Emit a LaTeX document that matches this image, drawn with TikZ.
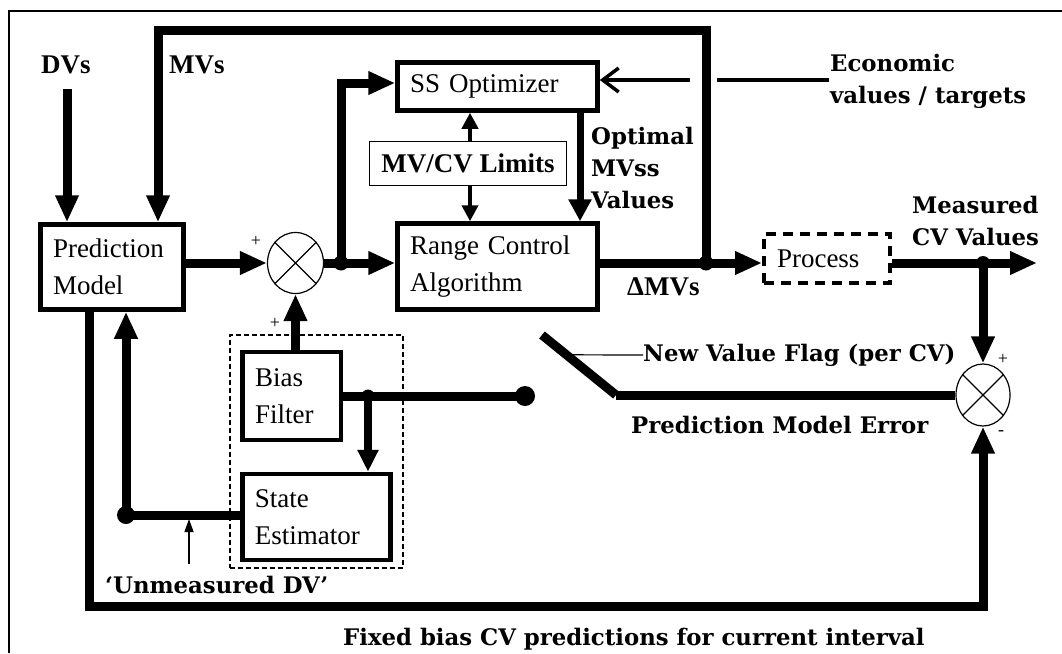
\documentclass[tikz,border=0pt]{standalone}
\usepackage{fontspec}
\newfontfamily\tmfont{Liberation Serif}
\newfontfamily\lbfont{DejaVu Serif}
\usetikzlibrary{arrows.meta,calc,shapes.geometric}

\tikzset{
  box/.style={draw, line width=4.5pt, rectangle, inner xsep=12.5pt, inner ysep=0pt,
    align=left, font=\tmfont\fontsize{27}{37}\selectfont},
  sumj/.style={ellipse, draw, line width=1.2pt, inner sep=0pt,
    minimum width=56pt, minimum height=61pt},
  dot/.style={circle, fill, inner sep=0pt, minimum size=15pt},
  main/.style={line width=9pt},
  marrow/.style={main, -{Triangle[length=27pt,width=22pt]}},
  midarrow/.style={line width=4pt, -{Triangle[length=16pt,width=16pt]}},
  thinarrow/.style={line width=1.3pt, -{Triangle[length=13pt,width=9pt]}},
  econarrow/.style={line width=3.5pt, -{Straight Barb[length=16pt,width=24pt]}},
  tlbl/.style={inner sep=0pt, font=\tmfont\bfseries\fontsize{27}{37}\selectfont},
  blbl/.style={inner sep=0pt, align=left, font=\lbfont\bfseries\fontsize{22.8}{32}\selectfont},
  sgn/.style={inner sep=0pt, font=\tmfont\fontsize{18}{18}\selectfont},
}

\begin{document}
\begin{tikzpicture}[x=1pt,y=-1pt]
\useasboundingbox (0,0) rectangle (1062,653);
\fill[white] (0,0) rectangle (1062,653);

% outer frame
\draw[line width=2.5pt] (1062,11) -| (9,653);

% blocks
\node[box, minimum width=143pt, minimum height=85pt, text width=118pt] (pm) at (112,267) {Prediction\\Model};
\node[box, minimum width=200pt, minimum height=48pt, text width=175pt] (ssopt) at (497.5,86.5) {\raisebox{-4pt}{SS Optimizer}};
\node[box, minimum width=200pt, minimum height=86pt, text width=175pt] (rca) at (497.5,266.5) {Range Control\\Algorithm};
\node[draw, line width=1.5pt, minimum width=197pt, minimum height=44pt, inner sep=0pt,
  font=\tmfont\bfseries\fontsize{27}{37}\selectfont] (limits) at (468,163.5) {MV/CV Limits};
\node[box, dash pattern=on 10pt off 7pt, line width=4pt, minimum width=126pt, minimum height=49pt,
  text width=100pt, inner xsep=13pt] (proc) at (827,258.5) {\raisebox{-3pt}{Process}};
\node[draw, dashed, line width=1.2pt, dash pattern=on 5pt off 3pt, minimum width=173pt,
  minimum height=233pt, inner sep=0pt] (grp) at (316.5,451.5) {};
\node[box, minimum width=98.5pt, minimum height=88pt, text width=73pt] (bias) at (291.5,396) {Bias\\Filter};
\node[box, minimum width=148pt, minimum height=86pt, text width=123pt] (se) at (316.25,517) {State\\Estimator};

% summing junctions
\node[sumj] (s1) at (295.5,263) {};
\draw[line width=1.2pt] (s1.45) -- (s1.225) (s1.135) -- (s1.315);
\node[sumj, minimum width=54pt, minimum height=62pt] (s2) at (983,395) {};
\draw[line width=1.2pt] (s2.45) -- (s2.225) (s2.135) -- (s2.315);

% junction dots
\node[dot] (j1) at (341,263) {};
\node[dot] (j2) at (706,263) {};
\node[dot, minimum size=14pt] (j3) at (983,263) {};
\node[dot, minimum size=13pt] (j4) at (368,396) {};
\node[dot, minimum size=18pt] (j5) at (126,515) {};
\node[dot, minimum size=20pt] (sw) at (525,396) {};

% helper points
\coordinate (dvt) at (67,89);
\coordinate (lpR) at (706,30);
\coordinate (lpL) at (158,30);
\coordinate (jt) at (341,83);
\coordinate (ecR) at (829,80);
\coordinate (gapR) at (717,80);
\coordinate (gapL) at (690,80);
\coordinate (opx) at (580,0);
\coordinate (lmx) at (470,0);
\coordinate (outT) at (1037,263);
\coordinate (fbL) at (89,606);
\coordinate (uA) at (189,564);
\coordinate (uB) at (189,519);
\coordinate (swA) at (542,335);
\coordinate (swB) at (616,395);

% forward path
\draw[marrow] (dvt) -- (dvt |- pm.north);
\draw[marrow] (pm.east |- s1) -- (s1.west);
\draw[marrow] (s1.east) -- (rca.west |- s1);
\draw[marrow] (j1.center) -- (jt) -- (ssopt.west |- jt);
\draw[marrow] (rca.east |- s1) -- (proc.west |- s1);
\draw[marrow] (j2.center) -- (lpR) -- (lpL) -- (lpL |- pm.north);
\draw[line width=3.5pt] (ecR) -- (gapR);
\draw[econarrow] (gapL) -- (ssopt.east |- gapL);
\draw[line width=7pt, -{Triangle[length=22pt,width=22pt]}] (ssopt.south -| opx) -- (rca.north -| opx);
\draw[midarrow] (limits.north -| lmx) -- (ssopt.south -| lmx);
\draw[midarrow] (limits.south -| lmx) -- (rca.north -| lmx);
\draw[marrow] (proc.east |- outT) -- (outT);
\draw[marrow] (j3.center) -- (s2.north);

% feedback and estimation
\draw[marrow] (pm.south -| fbL) -- (fbL) -| (s2.south);
\draw[marrow] (se.west |- j5) -- (j5.center) -- (j5.center |- pm.south);
\draw[thinarrow] (uA) -- (uB);
\draw[marrow] (bias.north -| s1) -- (s1.south);
\draw[main] (bias.east) -- (sw.center);
\draw[line width=8pt, -{Triangle[length=22pt,width=20pt]}] (j4.center) -- (j4.center |- se.north);

% switch
\draw[main] (swA) -- (swB);
\draw[main] (swB) -- (s2.west);
\node[blbl, anchor=west] (flag) at (643,355) {New Value Flag (per CV)};
\draw[line width=1.2pt] ($(swA)!0.33!(swB)$) -- (flag.west);

% labels (base anchor = baseline of the last line)
\node[tlbl, anchor=base west] (lDV) at (41,73) {DVs};
\node[tlbl, anchor=base west] (lMV) at (169,73) {MVs};
\node[blbl, anchor=base west] (lEc) at (830,103) {Economic\\values / targets};
\node[blbl, anchor=base west] (lOpt) at (591,208) {Optimal\\MVss\\Values};
\node[blbl, anchor=base west] (lMeas) at (912,245) {Measured\\CV Values};
\node[tlbl, anchor=base west] (lDMV) at (627,295) {ΔMVs};
\node[blbl, anchor=base west] (lErr) at (631,433) {Prediction Model Error};
\node[blbl, anchor=base west] (lUDV) at (105,593) {‘Unmeasured DV’};
\node[blbl, anchor=base west] (lFix) at (343,645) {Fixed bias CV predictions for current interval};

% signs
\node[sgn] (p1) at (256,241) {+};
\node[sgn] (p2) at (275,323) {+};
\node[sgn] (p3) at (1003,359) {+};
\node[sgn] (p4) at (1001,433) {-};
\end{tikzpicture}
\end{document}
